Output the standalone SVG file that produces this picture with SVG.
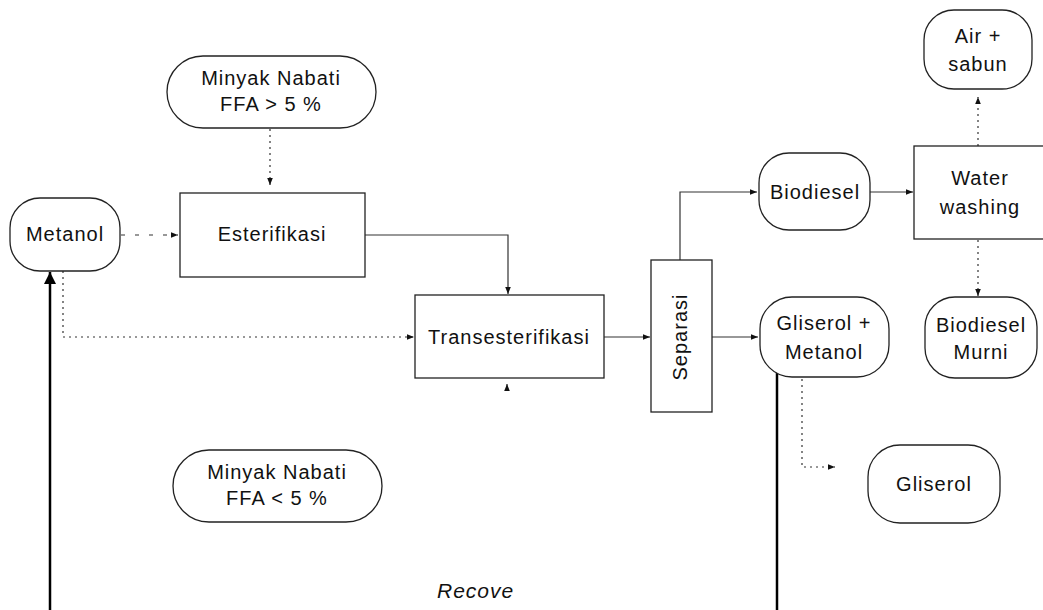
<svg xmlns="http://www.w3.org/2000/svg" width="1043" height="610" viewBox="0 0 1043 610">
<defs>
<marker id="ah" viewBox="0 0 10 10" refX="10" refY="5" markerWidth="8" markerHeight="7" orient="auto" markerUnits="userSpaceOnUse">
<path d="M0,1 L10,5 L0,9 Z" fill="#111"/>
</marker>
<marker id="ahb" viewBox="0 0 10 10" refX="10" refY="5" markerWidth="14" markerHeight="12" orient="auto" markerUnits="userSpaceOnUse">
<path d="M0,0 L10,5 L0,10 Z" fill="#000"/>
</marker>
</defs>
<style>
.n{fill:#fff;stroke:#222;stroke-width:1.3}
.t{font-family:"Liberation Sans",Arial,sans-serif;font-size:20px;letter-spacing:1px;fill:#111;text-anchor:middle}
.c{fill:none;stroke:#333;stroke-width:1.2}
.d{stroke-dasharray:4 10}
.p{stroke-dasharray:2 4}
.k{fill:none;stroke:#000;stroke-width:2.5}
</style>
<rect width="1043" height="610" fill="#fff"/>
<g id="connectors">
<path class="c p" d="M270,129 V185" marker-end="url(#ah)"/>
<path class="c d" d="M121,235 H178" marker-end="url(#ah)"/>
<path class="c" d="M365,235 H508 V294" marker-end="url(#ah)"/>
<path class="c p" d="M63,271 V337 H414" marker-end="url(#ah)"/>
<path class="k" d="M50,610 V272" marker-end="url(#ahb)"/>
<path class="c" d="M507,390 V384" marker-end="url(#ah)"/>
<path class="c" d="M604,337 H650" marker-end="url(#ah)"/>
<path class="c" d="M712,337 H758" marker-end="url(#ah)"/>
<path class="c" d="M680,260 V192 H757" marker-end="url(#ah)"/>
<path class="c" d="M870,192 H913" marker-end="url(#ah)"/>
<path class="c p" d="M978,146 V97" marker-end="url(#ah)"/>
<path class="c p" d="M978,240 V296" marker-end="url(#ah)"/>
<path class="k" d="M777,365 V610"/>
<path class="c p" d="M802,367 V467 H835" marker-end="url(#ah)"/>
</g>
<g id="minyak1"><rect class="n" x="167" y="56" width="209" height="72" rx="36"/><text class="t" x="271" y="85">Minyak Nabati</text><text class="t" x="271" y="111">FFA &gt; 5 %</text></g>
<g id="metanol"><rect class="n" x="10" y="198" width="110" height="73" rx="30"/><text class="t" x="65" y="241">Metanol</text></g>
<g id="esterifikasi"><rect class="n" x="180" y="193" width="185" height="84"/><text class="t" x="272" y="241">Esterifikasi</text></g>
<g id="transesterifikasi"><rect class="n" x="415" y="295" width="189" height="83"/><text class="t" x="509" y="344">Transesterifikasi</text></g>
<g id="minyak2"><rect class="n" x="173" y="450" width="209" height="72" rx="36"/><text class="t" x="277" y="479">Minyak Nabati</text><text class="t" x="277" y="505">FFA &lt; 5 %</text></g>
<g id="separasi"><rect class="n" x="651" y="260" width="61" height="152"/><text class="t" transform="translate(687,337) rotate(-90)" x="0" y="0">Separasi</text></g>
<g id="biodiesel"><rect class="n" x="759" y="153" width="111" height="77" rx="30"/><text class="t" x="815" y="199">Biodiesel</text></g>
<g id="waterwashing"><rect class="n" x="914" y="146" width="140" height="93"/><text class="t" x="980" y="185">Water</text><text class="t" x="980" y="214">washing</text></g>
<g id="airsabun"><rect class="n" x="924" y="10" width="108" height="79" rx="30"/><text class="t" x="978" y="43">Air +</text><text class="t" x="978" y="71">sabun</text></g>
<g id="gliserolmetanol"><rect class="n" x="760" y="297" width="129" height="80" rx="32"/><text class="t" x="824" y="330">Gliserol +</text><text class="t" x="824" y="359">Metanol</text></g>
<g id="biodieselmurni"><rect class="n" x="925" y="297" width="112" height="81" rx="30"/><text class="t" x="981" y="332">Biodiesel</text><text class="t" x="981" y="359">Murni</text></g>
<g id="gliserol"><rect class="n" x="868" y="445" width="132" height="78" rx="32"/><text class="t" x="934" y="491">Gliserol</text></g>
<text x="437" y="598" style="font-family:'Liberation Sans',Arial,sans-serif;font-size:21px;font-style:italic;letter-spacing:1px;fill:#111">Recove</text>
</svg>
